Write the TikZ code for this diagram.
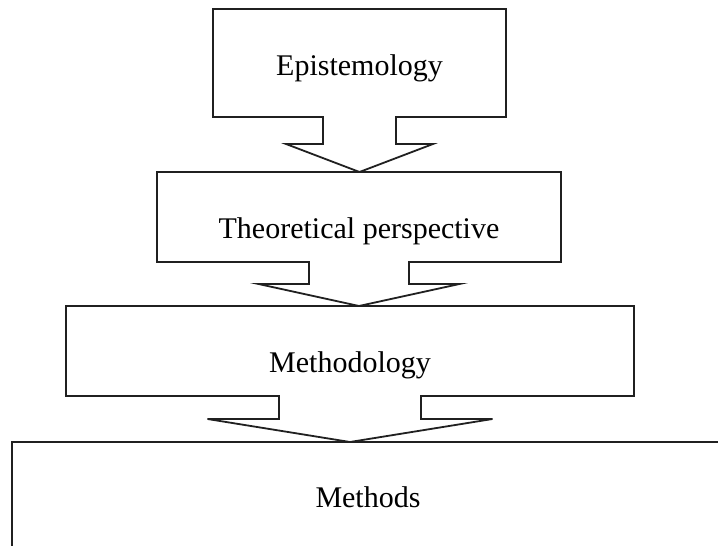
\documentclass[tikz,border=0pt]{standalone}
\usepackage{fontspec}
\setmainfont{Liberation Serif}
\usetikzlibrary{calc}
\definecolor{edgegray}{HTML}{202020}
\tikzset{
  stage/.style={rectangle,inner sep=0pt,outer sep=0pt},
  stagetext/.style={font=\fontsize{30}{36}\selectfont,text=black,inner sep=0pt},
  outline/.style={draw=edgegray,line width=1.8pt}
}

\begin{document}
\begin{tikzpicture}[x=1pt,y=1pt]
\useasboundingbox (0,0) rectangle (718,546);
\clip (0,0) rectangle (718,546);
% boxes
\node[stage,minimum width=293pt,minimum height=108pt] (epi) at (359.5,483) {};
\node[stage,minimum width=404pt,minimum height=90pt] (theo) at (359,329) {};
\node[stage,minimum width=568pt,minimum height=90pt] (meth) at (350,195) {};
\node[stage,outline,minimum width=712pt,minimum height=114pt] (mths) at (368,47) {};
% box outlines with the down arrow under each
\foreach \a/\b/\s/\h/\l in {epi/theo/36.5/73.5/27,theo/meth/50/100.5/22,meth/mths/71/142.5/23}
  \draw[outline] (\a.south west) -- (\a.north west) -- (\a.north east) -- (\a.south east)
    -- ([xshift=\s]\a.south) -- ([xshift=\s,yshift=-\l]\a.south)
    -- ([xshift=\h,yshift=-\l]\a.south) -- (\a.south |- \b.north)
    -- ([xshift=-\h,yshift=-\l]\a.south) -- ([xshift=-\s,yshift=-\l]\a.south)
    -- ([xshift=-\s]\a.south) -- cycle;
% texts
\node[stagetext] (epi-t) at ([yshift=-5]epi.center) {Epistemology};
\node[stagetext] (theo-t) at ([yshift=-14]theo.center) {Theoretical perspective};
\node[stagetext] (meth-t) at ([yshift=-14]meth.center) {Methodology};
\node[stagetext] (mths-t) at ([yshift=2]mths.center) {Methods};
\end{tikzpicture}
\end{document}
